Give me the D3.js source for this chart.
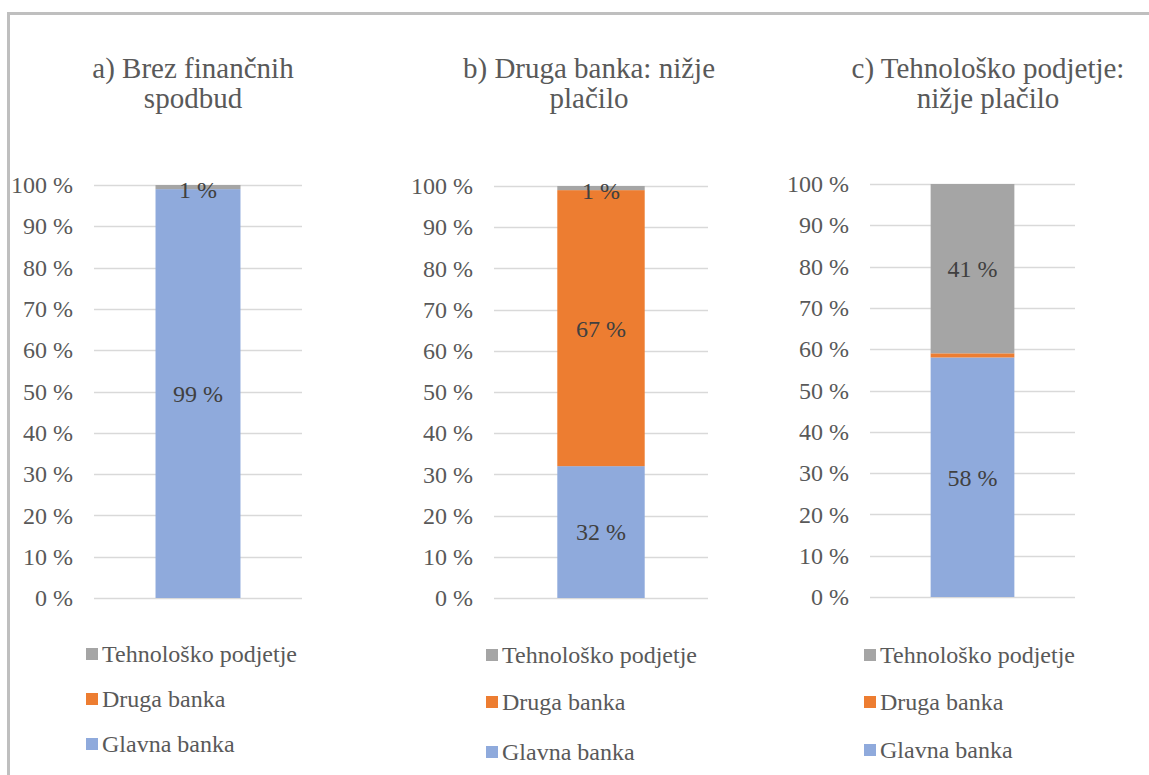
<!DOCTYPE html>
<html>
<head>
<meta charset="utf-8">
<script src="https://cdn.jsdelivr.net/npm/d3@7"></script>
<style>
  html, body { margin: 0; padding: 0; background: #fff; }
  svg { display: block; }
</style>
</head>
<body>
<svg id="chart" width="1149" height="775"></svg>
<script>
// Scenario titles (two lines each)
const panelTitles = [
  ["a) Brez finančnih", "spodbud"],
  ["b) Druga banka: nižje", "plačilo"],
  ["c) Tehnološko podjetje:", "nižje plačilo"]
];

// Stack order from bottom to top
const seriesNames = ["Glavna banka", "Druga banka", "Tehnološko podjetje"];
const seriesColors = ["#8FAADC", "#ED7D31", "#A5A5A5"];

// Shares (%) per scenario
const glavnaBanka = [99, 32, 58];
const drugaBanka = [0, 67, 1];
const tehnoloskoPodjetje = [1, 1, 41];

const yTicks = [0, 10, 20, 30, 40, 50, 60, 70, 80, 90, 100];

// Panel layout: plot area and placement of title / legend
const layout = [
  { x0: 94,  x1: 302,  yBottom: 598, yTop: 185, titleX: 193, legendX: 86,  legendY: [654, 699, 744] },
  { x0: 494, x1: 708,  yBottom: 598, yTop: 186, titleX: 589, legendX: 486, legendY: [655, 702, 752] },
  { x0: 870, x1: 1075, yBottom: 597, yTop: 184, titleX: 988, legendX: 864, legendY: [655, 702, 750] }
];

const FONT = "Liberation Serif, Times New Roman, serif";
const textColor = "#595959";

const svg = d3.select("#chart").attr("font-family", FONT);

// outer frame
svg.append("rect")
  .attr("x", 8.5).attr("y", 13.5)
  .attr("width", 1200).attr("height", 800)
  .attr("fill", "none")
  .attr("stroke", "#BFBFBF")
  .attr("stroke-width", 3);

const seriesValues = [glavnaBanka, drugaBanka, tehnoloskoPodjetje];

layout.forEach((L, i) => {
  const g = svg.append("g").attr("font-family", FONT);

  const y = d3.scaleLinear().domain([0, 100]).range([L.yBottom, L.yTop]);
  const x = d3.scaleBand().domain([0]).range([L.x0, L.x1]).padding(0.42);

  // gridlines
  g.append("g")
    .selectAll("line")
    .data(yTicks)
    .join("line")
    .attr("x1", L.x0).attr("x2", L.x1)
    .attr("y1", d => Math.round(y(d)) + 0.5)
    .attr("y2", d => Math.round(y(d)) + 0.5)
    .attr("stroke", "#D9D9D9")
    .attr("stroke-width", 1.5);

  // y axis labels
  const axis = d3.axisLeft(y).tickValues(yTicks).tickSize(0).tickPadding(21)
    .tickFormat(d => d + " %");
  const ax = g.append("g").attr("transform", `translate(${L.x0},0)`).call(axis);
  ax.attr("font-family", FONT);
  ax.select(".domain").remove();
  ax.selectAll("text")
    .attr("font-family", FONT)
    .attr("font-size", 24)
    .attr("fill", textColor);

  // stacked segments
  const row = { k: 0 };
  seriesNames.forEach((s, j) => row[s] = seriesValues[j][i]);
  const stacked = d3.stack().keys(seriesNames)([row]);

  stacked.forEach((layer, j) => {
    const d = layer[0];
    if (d[1] - d[0] <= 0) return;
    g.append("rect")
      .attr("x", x(0))
      .attr("width", x.bandwidth())
      .attr("y", y(d[1]))
      .attr("height", y(d[0]) - y(d[1]))
      .attr("fill", seriesColors[j]);
  });

  // value labels (the thin 1 % orange slice is left unlabeled)
  stacked.forEach((layer, j) => {
    const d = layer[0];
    const v = d[1] - d[0];
    if (v < 1 || seriesNames[j] === "Druga banka" && v < 2) return;
    g.append("text")
      .attr("x", x(0) + x.bandwidth() / 2)
      .attr("y", (y(d[0]) + y(d[1])) / 2 + (v < 2 ? 3 : 0))
      .attr("dy", "0.35em")
      .attr("text-anchor", "middle")
      .attr("font-family", FONT)
      .attr("font-size", 24)
      .attr("fill", "#404040")
      .text(v + " %");
  });

  // title
  const t = g.append("text")
    .attr("text-anchor", "middle")
    .attr("font-family", FONT)
    .attr("font-size", 29)
    .attr("fill", textColor);
  panelTitles[i].forEach((line, k) => {
    t.append("tspan").attr("x", L.titleX).attr("y", 78 + k * 30).text(line);
  });

  // legend (top series first)
  const legendOrder = [2, 1, 0];
  legendOrder.forEach((j, r) => {
    const cy = L.legendY[r];
    g.append("rect")
      .attr("x", L.legendX).attr("y", cy - 6)
      .attr("width", 12).attr("height", 12)
      .attr("fill", seriesColors[j]);
    g.append("text")
      .attr("x", L.legendX + 16).attr("y", cy)
      .attr("dy", "0.35em")
      .attr("font-family", FONT)
      .attr("font-size", 24)
      .attr("fill", textColor)
      .text(seriesNames[j]);
  });
});
</script>
</body>
</html>
